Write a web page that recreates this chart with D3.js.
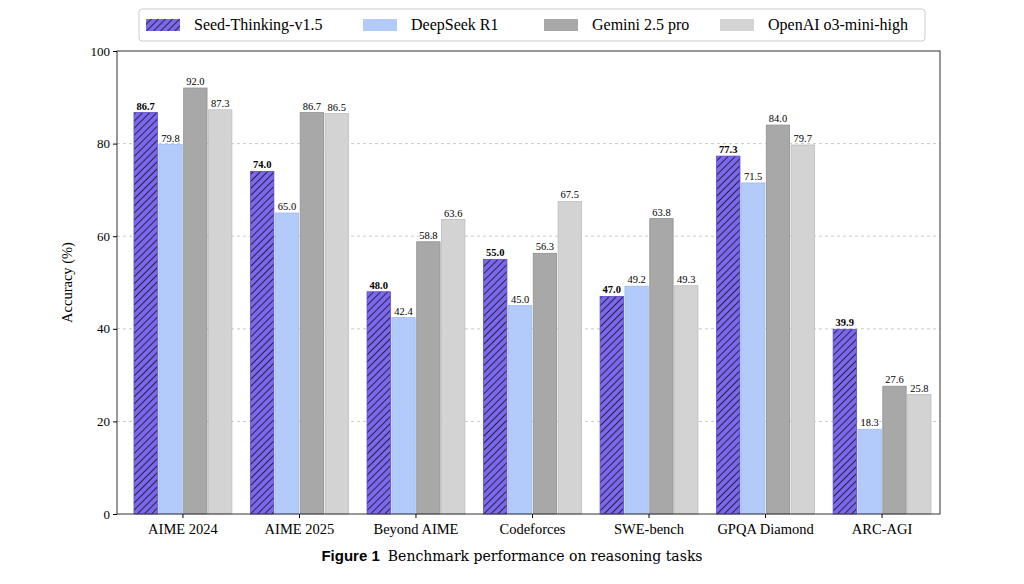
<!DOCTYPE html>
<html><head><meta charset="utf-8">
<script src="https://cdn.jsdelivr.net/npm/d3@7"></script>
<style>body{margin:0;background:#fff}</style></head>
<body><svg id="c" width="1024" height="584"></svg>
<script>
const categories=["AIME 2024","AIME 2025","Beyond AIME","Codeforces","SWE-bench","GPQA Diamond","ARC-AGI"];
const seriesNames=["Seed-Thinking-v1.5","DeepSeek R1","Gemini 2.5 pro","OpenAI o3-mini-high"];
const seed=[86.7,74.0,48.0,55.0,47.0,77.3,39.9];
const deepseek=[79.8,65.0,42.4,45.0,49.2,71.5,18.3];
const gemini=[92.0,86.7,58.8,56.3,63.8,84.0,27.6];
const openai=[87.3,86.5,63.6,67.5,49.3,79.7,25.8];
const yTicks=[0,20,40,60,80,100];
const series=[seed,deepseek,gemini,openai];
const fills=["url(#hatch)","#b3cbfb","#a8a8a8","#d3d3d3"];
const strokes=["#5a4bc4","#9fb8ea","#909090","#bdbdbd"];
const svg=d3.select("#c");
const serif="'Liberation Serif','DejaVu Serif',serif";
const defs=svg.append("defs");
const p=defs.append("pattern").attr("id","hatch").attr("patternUnits","userSpaceOnUse").attr("width",5).attr("height",5).attr("patternTransform","rotate(45)");
p.append("rect").attr("width",5).attr("height",5).attr("fill","#7b68ee");
p.append("line").attr("x1",0).attr("y1",0).attr("x2",0).attr("y2",5).attr("stroke","#111").attr("stroke-width",1.6);
const L=117,R=940,T=51,B=514;
const x=d3.scaleBand().domain(categories).range([L+17,R-9]).paddingInner(0.16).paddingOuter(0);
const xi=d3.scaleBand().domain(d3.range(4)).range([0,x.bandwidth()]).paddingInner(0.06);
const y=d3.scaleLinear().domain([0,100]).range([B,T]);
const g=svg.append("g");
g.selectAll(".grid").data(yTicks.slice(1,-1)).join("line").attr("x1",L).attr("x2",R).attr("y1",d=>y(d)).attr("y2",d=>y(d)).attr("stroke","#bbb").attr("stroke-dasharray","3,3").attr("stroke-width",0.8);
series.forEach((s,si)=>{
  g.selectAll(".b"+si).data(categories).join("rect").attr("x",c=>x(c)+xi(si)).attr("y",(c,i)=>y(s[i])).attr("width",xi.bandwidth()).attr("height",(c,i)=>B-y(s[i])).attr("fill",fills[si]).attr("stroke",strokes[si]).attr("stroke-width",0.8);
  g.selectAll(".t"+si).data(categories).join("text").attr("x",c=>x(c)+xi(si)+xi.bandwidth()/2).attr("y",(c,i)=>y(s[i])-3).attr("text-anchor","middle").attr("font-family",serif).attr("font-size",10.5).attr("font-weight",si==0?"bold":"normal").text((c,i)=>s[i].toFixed(1));
});
svg.append("rect").attr("x",L).attr("y",T).attr("width",R-L).attr("height",B-T).attr("fill","none").attr("stroke","#333").attr("stroke-width",1);
const ya=svg.append("g").attr("transform",`translate(${L},0)`).call(d3.axisLeft(y).tickValues(yTicks).tickSize(4));
ya.select(".domain").remove();
ya.selectAll("text").attr("font-family",serif).attr("font-size",13).attr("fill","#000");
const xa=svg.append("g").attr("transform",`translate(0,${B})`).call(d3.axisBottom(x).tickSize(4));
xa.select(".domain").remove();
xa.selectAll("text").attr("font-family",serif).attr("font-size",14.5).attr("fill","#000").attr("dy","0.9em");
svg.append("text").attr("transform",`translate(72,${(T+B)/2}) rotate(-90)`).attr("text-anchor","middle").attr("font-family",serif).attr("font-size",14.5).text("Accuracy (%)");
// legend
svg.append("rect").attr("x",139).attr("y",9).attr("width",786).attr("height",32).attr("rx",3).attr("fill","#fff").attr("stroke","#ccc");
const lx=[146,363,544,720];
seriesNames.forEach((n,i)=>{
  svg.append("rect").attr("x",lx[i]).attr("y",19).attr("width",34).attr("height",12).attr("fill",fills[i]);
  svg.append("text").attr("x",lx[i]+48).attr("y",30).attr("font-family",serif).attr("font-size",16).text(n);
});
const cap=svg.append("text").attr("x",512).attr("y",561).attr("text-anchor","middle").attr("font-size",15);
cap.append("tspan").attr("font-family","'Liberation Sans',Arial,sans-serif").attr("font-weight","bold").text("Figure 1");
cap.append("tspan").attr("font-family","'DejaVu Serif',serif").attr("font-size",14).attr("dx",8).text("Benchmark performance on reasoning tasks");
</script></body></html>
